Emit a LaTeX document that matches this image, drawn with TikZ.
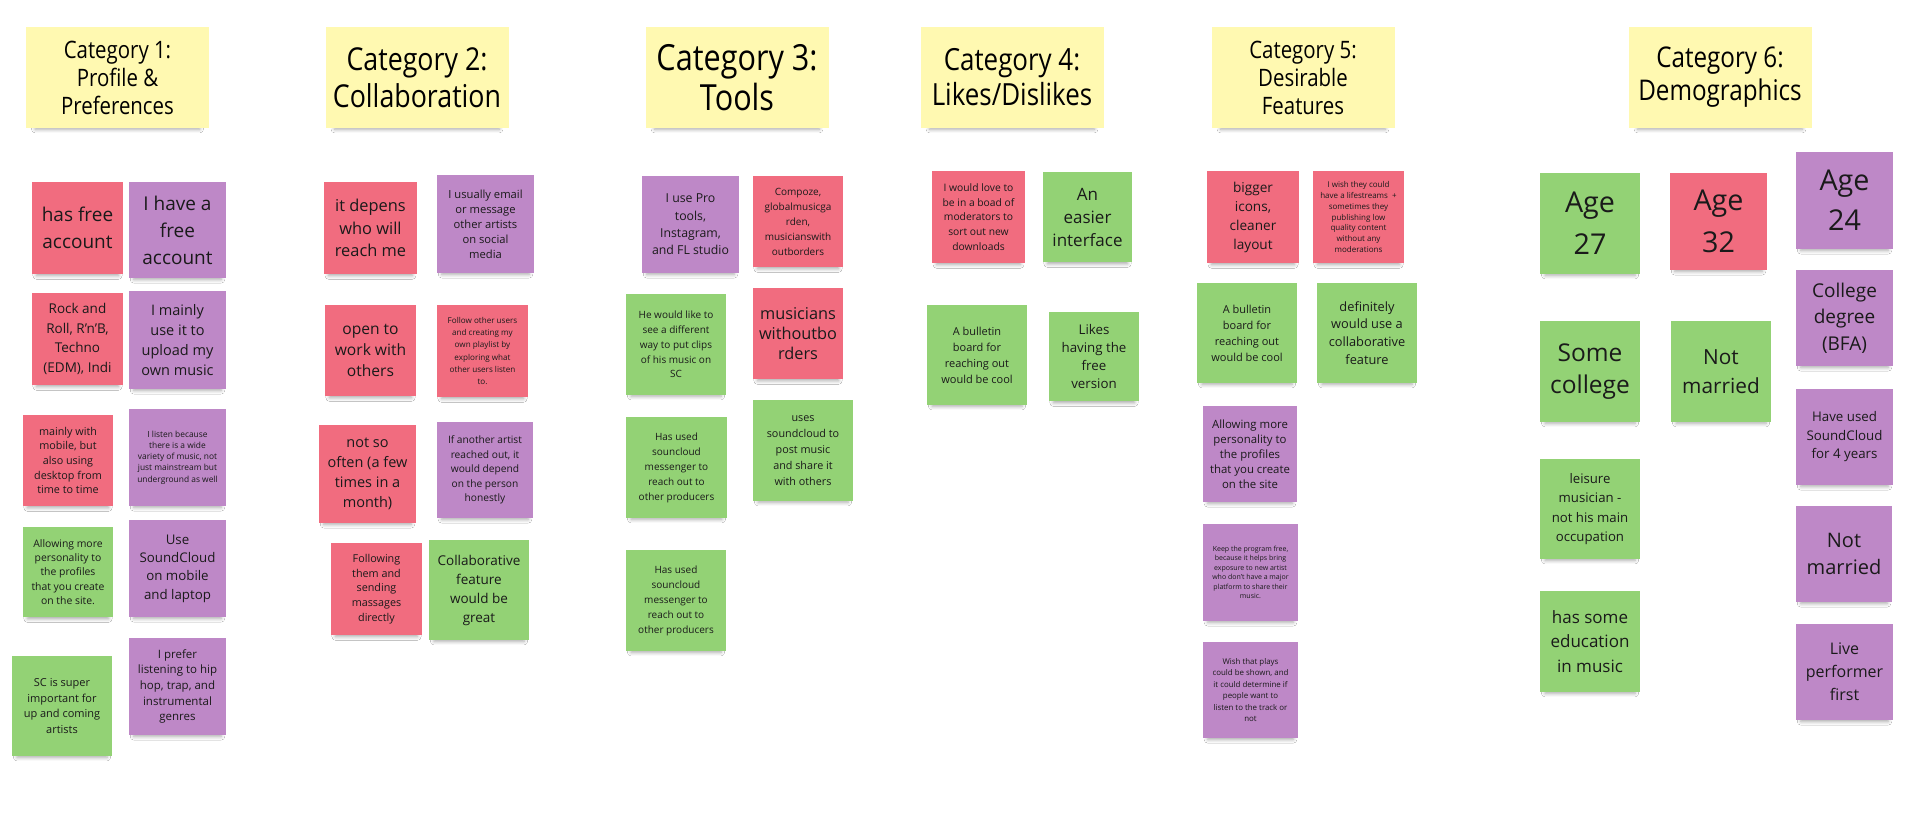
\documentclass[tikz,border=0pt]{standalone}
\usepackage{fontspec}
\setmainfont{Open Sans}
\newfontfamily\headfont{Open Sans}[FakeStretch=0.85]
\usetikzlibrary{shadows.blur}
\definecolor{nyellow}{HTML}{FFF9B1}
\definecolor{nred}{HTML}{F16C7F}
\definecolor{npurple}{HTML}{BE88C7}
\definecolor{ngreen}{HTML}{93D275}
\definecolor{ink}{HTML}{1A1A1A}
\newcommand\fz[2]{\fontsize{#1}{#2}\selectfont}
\newcommand\hf[2]{\headfont\fontsize{#1}{#2}\selectfont}

\begin{document}
\begin{tikzpicture}[x=1pt, y=-1pt,
    sticky/.style={inner sep=0pt, outer sep=0pt, align=center, text=ink,
        blur shadow={shadow xshift=0pt, shadow yshift=-7pt, shadow opacity=35,
            shadow blur radius=4pt, shadow scale=0.9}},
    sz/.style 2 args={minimum width=#1, minimum height=#2},
    head/.style={sticky, fill=nyellow, sz={183}{101}, text=black},
    rnote/.style={sticky, fill=nred},
    pnote/.style={sticky, fill=npurple},
    gnote/.style={sticky, fill=ngreen}]
        \useasboundingbox (0,0) rectangle (1920,832);
        \fill[white] (0,0) rectangle (1920,832);

        % headers
        \node[head, font=\hf{24}{28}] (h1) at (117.5,77.5) {Category 1:\\Profile \&\\Preferences};
        \node[head, font=\hf{31.5}{37}] (h2) at (417,77.5) {Category 2:\\Collaboration};
        \node[head, font=\hf{36}{40}] (h3) at (737,77.5) {Category 3:\\Tools};
        \node[head, font=\hf{30.5}{35}] (h4) at (1012,77.5) {Category 4:\\Likes/Dislikes};
        \node[head, font=\hf{24}{28}] (h5) at (1303,77.5) {Category 5:\\Desirable\\Features};
        \node[head, font=\hf{28.5}{33}] (h6) at (1720,77.5) {Category 6:\\Demographics};

        % category 1
        \node[rnote, sz={91}{92}, font=\fz{19}{27}] (c1a) at (77.5,228) {has free\\account};
        \node[pnote, sz={97}{96}, font=\fz{19}{27}] (c1b) at (177.5,230) {I have a\\free\\account};
        \node[rnote, sz={91}{92}, font=\fz{13.5}{19.5}] (c1c) at (77.5,339) {Rock and\\Roll, R'n'B,\\Techno\\(EDM), Indi};
        \node[pnote, sz={97}{98}, font=\fz{14.5}{20}] (c1d) at (177.5,340) {I mainly\\use it to\\upload my\\own music};
        \node[rnote, sz={90}{91}, font=\fz{10.8}{14.7}] (c1e) at (68,460.5) {mainly with\\mobile, but\\also using\\desktop from\\time to time};
        \node[pnote, sz={97}{97}, font=\fz{8.4}{11.3}] (c1f) at (177.5,457.5) {I listen because\\there is a wide\\variety of music, not\\just mainstream but\\underground as well};
        \node[gnote, sz={90}{90}, font=\fz{10.4}{14.2}] (c1g) at (68,572) {Allowing more\\personality to\\the profiles\\that you create\\on the site.};
        \node[pnote, sz={97}{97}, font=\fz{13.3}{18.3}] (c1h) at (177.5,568.5) {Use\\SoundCloud\\on mobile\\and laptop};
        \node[gnote, sz={100}{100}, font=\fz{11}{15.9}] (c1i) at (62,706) {SC is super\\important for\\up and coming\\artists};
        \node[pnote, sz={97}{97}, font=\fz{11.5}{15.6}] (c1j) at (177.5,686.5) {I prefer\\listening to hip\\hop, trap, and\\instrumental\\genres};

        % category 2
        \node[rnote, sz={93}{92}, font=\fz{16.4}{22.5}] (c2a) at (370.5,228) {it depens\\who will\\reach me};
        \node[pnote, sz={97}{98}, font=\fz{11.2}{15}] (c2b) at (485.5,224) {I usually email\\or message\\other artists\\on social\\media};
        \node[rnote, sz={91}{91}, font=\fz{15.6}{20.8}] (c2c) at (370.5,350.5) {open to\\work with\\others};
        \node[rnote, sz={91}{92}, font=\fz{8.1}{12.1}] (c2d) at (482.5,351) {Follow other users\\and creating my\\own playlist by\\exploring what\\other users listen\\to.};
        \node[rnote, sz={97}{98}, font=\fz{14.5}{20}] (c2e) at (367.5,474) {not so\\often (a few\\times in a\\month)};
        \node[pnote, sz={96}{96}, font=\fz{10.2}{14.6}] (c2f) at (485,470) {If another artist\\reached out, it\\would depend\\on the person\\honestly};
        \node[rnote, sz={91}{92}, font=\fz{10.8}{14.6}] (c2g) at (376.5,589) {Following\\them and\\sending\\massages\\directly};
        \node[gnote, sz={100}{100}, font=\fz{13.5}{19}] (c2h) at (479,590) {Collaborative\\feature\\would be\\great};

        % category 3
        \node[pnote, sz={97}{97}, font=\fz{12.3}{17.3}] (c3a) at (690.5,224.5) {I use Pro\\tools,\\Instagram,\\and FL studio};
        \node[rnote, sz={90}{91}, font=\fz{10}{15}] (c3b) at (798,221.5) {Compoze,\\globalmusicga\\rden,\\musicianswith\\outborders};
        \node[gnote, sz={100}{101}, font=\fz{10}{14.8}] (c3c) at (676,344.5) {He would like to\\see a different\\way to put clips\\of his music on\\SC};
        \node[rnote, sz={90}{91}, font=\fz{16.3}{20}] (c3d) at (798,333.5) {musicians\\withoutbo\\rders};
        \node[gnote, sz={101}{101}, font=\fz{10}{15}] (c3e) at (676.5,467.5) {Has used\\souncloud\\messenger to\\reach out to\\other producers};
        \node[gnote, sz={100}{101}, font=\fz{10.8}{16}] (c3f) at (803,450.5) {uses\\soundcloud to\\post music\\and share it\\with others};
        \node[gnote, sz={100}{101}, font=\fz{10}{15}] (c3g) at (676,600.5) {Has used\\souncloud\\messenger to\\reach out to\\other producers};

        % category 4
        \node[rnote, sz={93}{92}, font=\fz{10.3}{14.8}] (c4a) at (978.5,217) {I would love to\\be in a boad of\\moderators to\\sort out new\\downloads};
        \node[gnote, sz={89}{90}, font=\fz{17}{23}] (c4b) at (1087.5,217) {An\\easier\\interface};
        \node[gnote, sz={100}{100}, font=\fz{11}{16}] (c4c) at (977,355) {A bulletin\\board for\\reaching out\\would be cool};
        \node[gnote, sz={90}{89}, font=\fz{13.3}{18}] (c4d) at (1094,356.5) {Likes\\having the\\free\\version};

        % category 5
        \node[rnote, sz={92}{92}, font=\fz{13.6}{19}] (c5a) at (1253,217) {bigger\\icons,\\cleaner\\layout};
        \node[rnote, sz={91}{92}, font=\fz{8}{10.7}] (c5b) at (1358.5,217) {I wish they could\\have a lifestreams\ \ +\\sometimes they\\publishing low\\quality content\\without any\\moderations};
        \node[gnote, sz={100}{100}, font=\fz{11}{16}] (c5c) at (1247,333) {A bulletin\\board for\\reaching out\\would be cool};
        \node[gnote, sz={100}{100}, font=\fz{12.8}{17.8}] (c5d) at (1367,333) {definitely\\would use a\\collaborative\\feature};
        \node[pnote, sz={94}{96}, font=\fz{11.4}{15}] (c5e) at (1250,454) {Allowing more\\personality to\\the profiles\\that you create\\on the site};
        \node[pnote, sz={95}{97}, font=\fz{7}{9.5}] (c5f) at (1250.5,572.5) {Keep the program free,\\because it helps bring\\exposure to new artist\\who don't have a major\\platform to share their\\music.};
        \node[pnote, sz={95}{96}, font=\fz{7.9}{11.4}] (c5g) at (1250.5,690) {Wish that plays\\could be shown, and\\it could determine if\\people want to\\listen to the track or\\not};

        % category 6
        \node[gnote, sz={100}{101}, font=\fz{28.7}{42}] (c6a) at (1590,223.5) {Age\\27};
        \node[rnote, sz={97}{97}, font=\fz{28.7}{42}] (c6b) at (1718.5,221.5) {Age\\32};
        \node[pnote, sz={97}{97}, font=\fz{28.7}{40}] (c6c) at (1844.5,200.5) {Age\\24};
        \node[pnote, sz={97}{96}, font=\fz{19}{26.7}] (c6d) at (1844.5,318) {College\\degree\\(BFA)};
        \node[pnote, sz={97}{96}, font=\fz{13.3}{18.5}] (c6e) at (1844.5,437) {Have used\\SoundCloud\\for 4 years};
        \node[pnote, sz={96}{96}, font=\fz{20}{27.9}] (c6f) at (1844,554) {Not\\married};
        \node[pnote, sz={97}{96}, font=\fz{16}{22.9}] (c6g) at (1844.5,672) {Live\\performer\\first};
        \node[gnote, sz={100}{101}, font=\fz{24.5}{32.4}] (c6h) at (1590,371.5) {Some\\college};
        \node[gnote, sz={100}{101}, font=\fz{20.8}{29.4}] (c6i) at (1721,371.5) {Not\\married};
        \node[gnote, sz={100}{100}, font=\fz{13.2}{19.5}] (c6j) at (1590,509) {leisure\\musician -\\not his main\\occupation};
        \node[gnote, sz={100}{101}, font=\fz{17}{24.2}] (c6k) at (1590,641.5) {has some\\education\\in music};
\end{tikzpicture}
\end{document}
